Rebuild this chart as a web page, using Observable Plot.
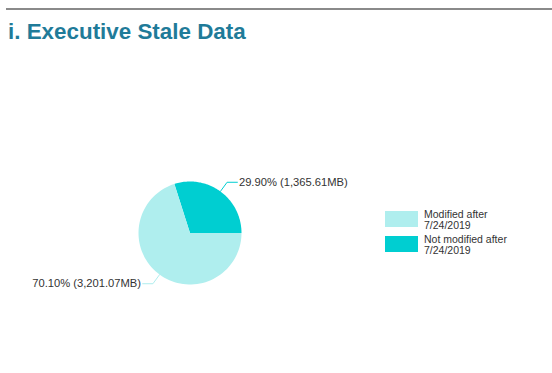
<!DOCTYPE html>
<html>
<head>
<meta charset="utf-8">
<script src="https://cdn.jsdelivr.net/npm/d3@7"></script>
<script src="https://cdn.jsdelivr.net/npm/@observablehq/plot@0.6"></script>
<style>
  html, body { margin: 0; padding: 0; background: #fff; }
  body { width: 552px; height: 373px; position: relative; overflow: hidden; font-family: "Liberation Sans", Arial, sans-serif; }
  #rule { position: absolute; left: 6px; right: 0; top: 8px; border-top: 2px solid #8a8a8a; }
  #title { position: absolute; left: 8px; top: 19px; font-size: 22.4px; font-weight: bold; color: #1f7b99; }
  #chart { position: absolute; left: 0; top: 50px; }
  #legend { position: absolute; left: 385px; top: 209px; font-size: 10.5px; color: #333; }
  .item { display: flex; align-items: flex-start; height: 25px; }
  .sw { width: 33px; height: 16px; margin-top: 2px; margin-right: 6px; flex: none; }
  .lab { line-height: 11px; }
</style>
</head>
<body>
<div id="rule"></div>
<div id="title">i. Executive Stale Data</div>
<div id="chart"></div>
<div id="legend"></div>
<script>
const categories = ["Not modified after 7/24/2019", "Modified after 7/24/2019"];
const values = [1365.61, 3201.07];
const colors = ["darkturquoise", "paleturquoise"];
const legendOrder = ["Modified after 7/24/2019", "Not modified after 7/24/2019"];
const legendLines = [["Modified after", "7/24/2019"], ["Not modified after", "7/24/2019"]];

const total = d3.sum(values);
const fmtPct = v => (v / total * 100).toFixed(2) + "%";
const fmtMB = v => d3.format(",.2f")(v) + "MB";

// start angle so the smaller slice ends at 3 o'clock
const startAngle = Math.PI / 2 - values[0] / total * 2 * Math.PI;
const arcs = d3.pie().sort(null).startAngle(startAngle).endAngle(startAngle + 2 * Math.PI)(values);

const pts = [];
arcs.forEach((a, i) => {
  const n = 80;
  pts.push({key: categories[i], x: 0, y: 0});
  for (let k = 0; k <= n; k++) {
    const t = a.startAngle + (a.endAngle - a.startAngle) * k / n;
    pts.push({key: categories[i], x: Math.sin(t), y: Math.cos(t)});
  }
  pts.push({key: categories[i], x: 0, y: 0});
});

const leaders = [];
const labels = [];
arcs.forEach((a, i) => {
  const m = (a.startAngle + a.endAngle) / 2;
  const sx = Math.sin(m), sy = Math.cos(m);
  const ex = Math.sin(m) * 1.22, ey = Math.cos(m) * 1.22;
  const dir = sx >= 0 ? 1 : -1;
  const hx = ex + dir * 0.2;
  leaders.push({key: categories[i], x: sx, y: sy}, {key: categories[i], x: ex, y: ey}, {key: categories[i], x: hx, y: ey});
  labels.push({x: hx + dir * 0.03, y: ey, text: fmtPct(values[i]) + " (" + fmtMB(values[i]) + ")", anchor: dir > 0 ? "start" : "end"});
});

const chart = Plot.plot({
  width: 552,
  height: 323,
  margin: 0,
  x: {domain: [-1, 1], range: [138, 241], axis: null},
  y: {domain: [-1, 1], range: [234, 131], axis: null},
  color: {domain: categories, range: colors},
  marks: [
    Plot.line(pts, {x: "x", y: "y", z: "key", fill: "key", stroke: "none", curve: "linear"}),
    Plot.line(leaders, {x: "x", y: "y", z: "key", stroke: "key", strokeWidth: 1}),
    Plot.text(labels.filter(d => d.anchor === "start"), {x: "x", y: "y", text: "text", textAnchor: "start", fontSize: 11.2, fill: "#333", fontFamily: "Liberation Sans, Arial, sans-serif"}),
    Plot.text(labels.filter(d => d.anchor === "end"), {x: "x", y: "y", text: "text", textAnchor: "end", fontSize: 11.2, fill: "#333", fontFamily: "Liberation Sans, Arial, sans-serif"})
  ]
});
document.getElementById("chart").appendChild(chart);

const legend = document.getElementById("legend");
legendOrder.forEach((name, i) => {
  const item = document.createElement("div");
  item.className = "item";
  const sw = document.createElement("div");
  sw.className = "sw";
  sw.style.background = colors[categories.indexOf(name)];
  const lab = document.createElement("div");
  lab.className = "lab";
  lab.innerHTML = legendLines[i].join("<br>");
  item.appendChild(sw);
  item.appendChild(lab);
  legend.appendChild(item);
});
</script>
</body>
</html>
